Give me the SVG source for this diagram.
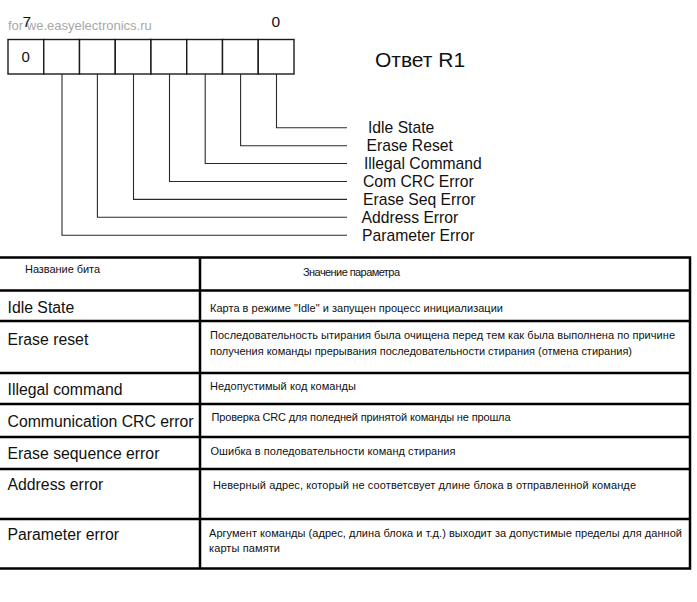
<svg xmlns="http://www.w3.org/2000/svg" width="697" height="602" viewBox="0 0 697 602">
<style>
text{font-family:"Liberation Sans",Arial,sans-serif;fill:#111}
.cell{fill:#fff;stroke:#1a1a1a;stroke-width:1.4}
.conn{fill:none;stroke:#2a2a2a;stroke-width:1.1}
.lbl{font-size:15.7px}
.tl{stroke:#000;stroke-width:2.5;fill:none}
.big{font-size:15.8px}
.sm{font-size:11px}
.wm{font-size:13px;fill:#a8a8a8}
</style>
<rect width="697" height="602" fill="#fff"/>
<text class="wm" x="8" y="30">for we.easyelectronics.ru</text>
<g id="register">
<rect class="cell" x="8" y="39.5" width="35.75" height="34.5"/>
<rect class="cell" x="43.75" y="39.5" width="35.75" height="34.5"/>
<rect class="cell" x="79.5" y="39.5" width="35.75" height="34.5"/>
<rect class="cell" x="115.25" y="39.5" width="35.75" height="34.5"/>
<rect class="cell" x="151" y="39.5" width="35.75" height="34.5"/>
<rect class="cell" x="186.75" y="39.5" width="35.75" height="34.5"/>
<rect class="cell" x="222.5" y="39.5" width="35.75" height="34.5"/>
<rect class="cell" x="258.25" y="39.5" width="35.75" height="34.5"/>
<text x="21.5" y="62" style="font-size:15px">0</text>
<text x="22.5" y="27" style="font-size:15.5px">7</text>
<text x="271.5" y="27" style="font-size:15.5px">0</text>
</g>
<text id="title" x="375" y="67" style="font-size:21px">Ответ R1</text>
<g id="connectors">
<polyline class="conn" points="276.5,74 276.5,127.7 347,127.7"/>
<polyline class="conn" points="240.6,74 240.6,145.7 347,145.7"/>
<polyline class="conn" points="205.2,74 205.2,163.5 347,163.5"/>
<polyline class="conn" points="169.5,74 169.5,181.5 347,181.5"/>
<polyline class="conn" points="133.5,74 133.5,199.4 347,199.4"/>
<polyline class="conn" points="97.4,74 97.4,217.3 347,217.3"/>
<polyline class="conn" points="62,74 62,235.3 347,235.3"/>
</g>
<g id="labels">
<text class="lbl" x="368" y="133">Idle State</text>
<text class="lbl" x="366.5" y="151">Erase Reset</text>
<text class="lbl" x="364" y="169">Illegal Command</text>
<text class="lbl" x="363" y="187">Com CRC Error</text>
<text class="lbl" x="363" y="205">Erase Seq Error</text>
<text class="lbl" x="361.5" y="223">Address Error</text>
<text class="lbl" x="362" y="241">Parameter Error</text>
</g>
<g id="table">
<path class="tl" d="M0,257.5 H690 V568.5 H0 M200,257.5 V568.5 M0,290.5 H690 M0,321 H690 M0,373 H690 M0,404 H690 M0,437 H690 M0,469 H690 M0,519 H690"/>
<text class="sm" x="25" y="273" textLength="75">Название бита</text>
<text class="sm" x="303" y="276" textLength="97">Значение параметра</text>
<text class="big" x="7.5" y="313">Idle State</text>
<text class="sm" x="210" y="311.5" textLength="293">Карта в режиме "Idle" и запущен процесс инициализации</text>
<text class="big" x="7.5" y="345">Erase reset</text>
<text class="sm" x="210" y="338.5" textLength="465">Последовательность ытирания была очищена перед тем как была выполнена по причине</text>
<text class="sm" x="210" y="354.5" textLength="422">получения команды прерывания последовательности стирания (отмена стирания)</text>
<text class="big" x="7.5" y="395">Illegal command</text>
<text class="sm" x="210" y="390" textLength="146">Недопустимый код команды</text>
<text class="big" x="7.5" y="426.5">Communication CRC error</text>
<text class="sm" x="211.5" y="420.5" textLength="299">Проверка CRC для поледней принятой команды не прошла</text>
<text class="big" x="7.5" y="458.5">Erase sequence error</text>
<text class="sm" x="210.5" y="454.5" textLength="245">Ошибка в поледовательности команд стирания</text>
<text class="big" x="7.5" y="490">Address error</text>
<text class="sm" x="213" y="488.5" textLength="423">Неверный адрес, который не соответсвует длине блока в отправленной команде</text>
<text class="big" x="7.5" y="540">Parameter error</text>
<text class="sm" x="209" y="537" textLength="473">Аргумент команды (адрес, длина блока и т.д.) выходит за допустимые пределы для данной</text>
<text class="sm" x="209" y="551.5" textLength="71">карты памяти</text>
</g>
</svg>
